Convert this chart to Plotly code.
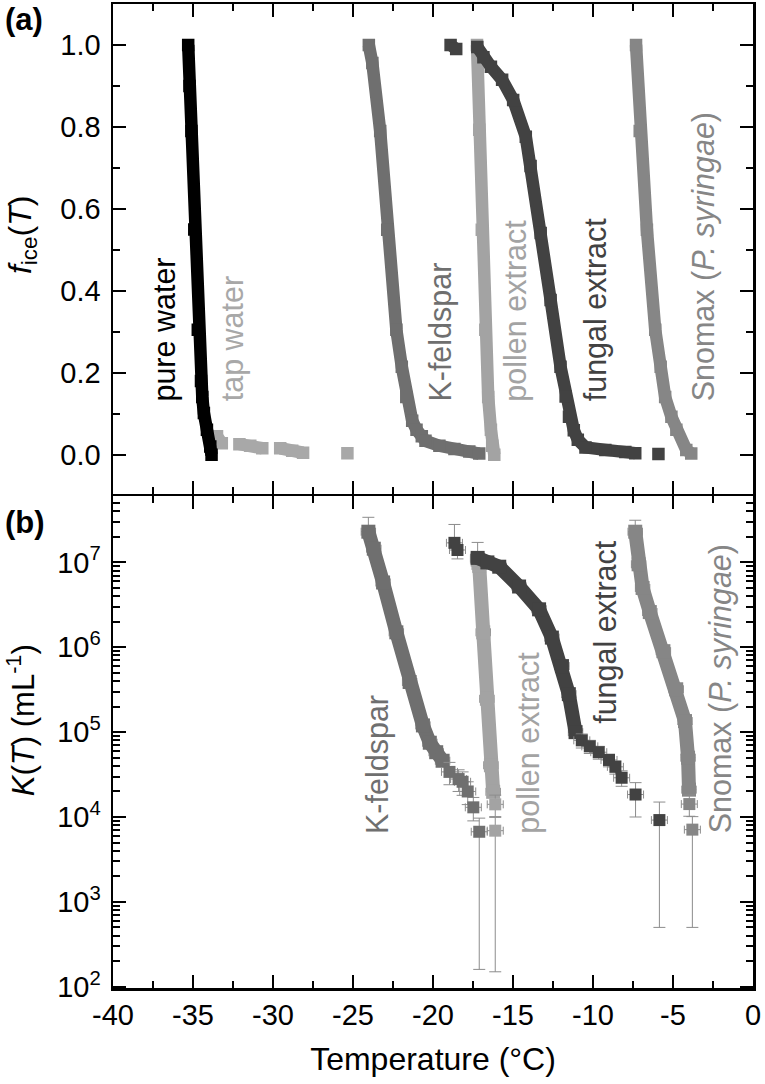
import plotly.graph_objects as go
from plotly.subplots import make_subplots

# ---------------- data: panel (a) f_ice(T) ----------------
pure_T = [-35.30, -35.22, -35.10, -34.92, -34.70, -34.50, -34.42, -34.32, -34.13, -33.92, -33.84]
pure_f = [1.000, 0.900, 0.790, 0.550, 0.305, 0.180, 0.141, 0.102, 0.061, 0.020, 0.000]

tap_T = [-33.50, -33.20, None, -32.10, -31.42, -30.67, None, -29.55, -28.80, -28.12, None, -25.35]
tap_f = [0.045, 0.028, None, 0.026, 0.022, 0.016, None, 0.016, 0.010, 0.005, None, 0.004]

kf_T = [-24.01, -23.79, -23.30, -22.86, -22.29, -21.95, -21.67, -21.30, -21.03, -20.70, -20.47, -19.60, -18.66, -17.73, -17.11]
kf_f = [1.000, 0.956, 0.790, 0.549, 0.305, 0.215, 0.141, 0.083, 0.061, 0.045, 0.034, 0.022, 0.014, 0.008, 0.003]

pollen_T = [-17.25, -17.11, -16.95, -16.73, -16.55, -16.38, -16.30, -16.17]
pollen_f = [1.000, 0.793, 0.549, 0.305, 0.141, 0.061, 0.022, 0.000]

fungal_T = [-18.90, -18.55, None, -17.23, -16.85, -16.38, -15.68, -14.99, -14.20, -13.90, -13.27, -12.65,
            -12.03, -11.71, -11.50, -11.20, -10.95, -10.47, -9.23, -7.98, -7.36, None, -5.91]
fungal_f = [1.000, 0.990, None, 0.995, 0.970, 0.947, 0.915, 0.866, 0.776, 0.705, 0.541, 0.378,
            0.215, 0.142, 0.093, 0.060, 0.037, 0.018, 0.012, 0.007, 0.004, None, 0.002]

snomax_T = [-7.31, -7.08, -6.63, -6.11, -5.77, -5.49, -5.10, -4.79, -4.17, -3.86]
snomax_f = [1.000, 0.790, 0.549, 0.305, 0.215, 0.141, 0.093, 0.061, 0.012, 0.003]

# ---------------- data: panel (b) K(T) in mL^-1 ----------------
kfK_band_T = [-24.04, -23.70, -23.12, -22.29, -21.46, -20.63, -20.20, -19.80, -19.40]
kfK_band_K = [2.3e7, 1.45e7, 5.8e6, 1.5e6, 3.9e5, 1.2e5, 7.5e4, 5.8e4, 4.6e4]
kfK_band_up = [1.1e7, 0, 0, 0, 0, 0, 0, 0, 0]
kfK_pts_T = [-18.97, -18.40, -18.15, -17.83, -17.48, -17.11]
kfK_pts_K = [3.4e4, 2.8e4, 2.6e4, 2.0e4, 1.3e4, 6.7e3]
kfK_pts_up = [1.0e4, 8.0e3, 8.0e3, 6.0e3, 4.0e3, 3.0e3]
kfK_pts_dn = [1.0e4, 8.0e3, 8.0e3, 6.0e3, 4.0e3, 6.54e3]

polK_band_T = [-17.21, -17.11, -16.86, -16.63, -16.38, -16.24]
polK_band_K = [1.08e7, 9.1e6, 1.5e6, 2.47e5, 4.07e4, 1.98e4]
polK_band_up = [6.4e6, 0, 0, 0, 0, 0]
polK_pts_T = [-16.11, -16.11]
polK_pts_K = [1.41e4, 6.9e3]
polK_pts_up = [4.0e3, 3.0e3]
polK_pts_dn = [4.0e3, 6.75e3]

funK_iso_T = [-18.66, -18.47]
funK_iso_K = [1.7e7, 1.4e7]
funK_iso_up = [1.1e7, 0]
funK_iso_dn = [0, 3.0e6]
funK_band_T = [-17.21, -16.60, -15.86, -14.62, -13.37, -12.57, -11.94, -11.51, -11.09]
funK_band_K = [1.13e7, 1.0e7, 8.9e6, 5.2e6, 2.8e6, 1.3e6, 6.0e5, 2.8e5, 1.0e5]
funK_pts_T = [-10.70, -10.20, -9.64, -9.00, -8.60, -8.21, -7.34, -5.85]
funK_pts_K = [8.0e4, 6.8e4, 5.8e4, 4.7e4, 3.9e4, 2.9e4, 1.84e4, 9.2e3]
funK_pts_up = [1.5e4, 1.2e4, 1.0e4, 8.0e3, 7.0e3, 6.0e3, 7.0e3, 5.8e3]
funK_pts_dn = [1.5e4, 1.2e4, 1.0e4, 8.0e3, 7.0e3, 6.0e3, 8.4e3, 8.7e3]

snoK_band_T = [-7.36, -7.15, -6.90, -6.45, -5.60, -4.80, -4.25, -4.06, -4.00]
snoK_band_K = [2.3e7, 9.5e6, 5.0e6, 2.6e6, 9.0e5, 3.2e5, 1.35e5, 5.0e4, 2.1e4]
snoK_band_up = [8.4e6, 0, 0, 0, 0, 0, 0, 0, 0]
snoK_pts_T = [-3.98, -3.79]
snoK_pts_K = [1.42e4, 7.1e3]
snoK_pts_up = [4.0e3, 3.0e3]
snoK_pts_dn = [4.0e3, 6.6e3]

T_ERR_BAND = 0.45
T_ERR_PTS = 0.5

# tick labels
x_tickvals = [-40, -35, -30, -25, -20, -15, -10, -5, 0]
x_ticktext = ["-40", "-35", "-30", "-25", "-20", "-15", "-10", "-5", "0"]
k_tickvals = [1e2, 1e3, 1e4, 1e5, 1e6, 1e7]
k_ticktext = ["10<sup>2</sup>", "10<sup>3</sup>", "10<sup>4</sup>", "10<sup>5</sup>",
              "10<sup>6</sup>", "10<sup>7</sup>"]

# ---------------- styles ----------------
C_PURE = "#000000"
C_TAP = "#a8a8a8"
C_KF = "#6f6f6f"
C_POLLEN = "#a3a3a3"
C_FUNGAL = "#424242"
C_SNOMAX = "#868686"
C_ERR = "#8c8c8c"
MS_A = 12.5
MS_B = 14
FONT = "Liberation Sans, Arial, sans-serif"
TICK_SIZE = 29
TITLE_SIZE = 32
LABEL_SIZE = 30.5

fig = make_subplots(rows=2, cols=1, shared_xaxes=True, vertical_spacing=0)


def band(x, y, color, row, size, err_up=None, err_x=None):
    kw = {}
    if err_up is not None:
        kw["error_y"] = dict(type="data", symmetric=False, array=err_up,
                             arrayminus=[0] * len(err_up), color=C_ERR, thickness=1, width=6)
    if err_x is not None:
        kw["error_x"] = dict(type="constant", value=err_x, color=C_ERR, thickness=1, width=4)
    fig.add_trace(go.Scatter(x=x, y=y, mode="lines+markers",
                             line=dict(color=color, width=size),
                             marker=dict(symbol="square", size=size, color=color),
                             connectgaps=False, showlegend=False, hoverinfo="skip", **kw),
                  row=row, col=1)


def points(x, y, up, dn, color, row, size):
    fig.add_trace(go.Scatter(x=x, y=y, mode="markers",
                             marker=dict(symbol="square", size=size, color=color),
                             error_y=dict(type="data", symmetric=False, array=up, arrayminus=dn,
                                          color=C_ERR, thickness=1, width=6),
                             error_x=dict(type="constant", value=T_ERR_PTS, color=C_ERR,
                                          thickness=1, width=4),
                             showlegend=False, hoverinfo="skip"), row=row, col=1)


# panel (a)
band(tap_T, tap_f, C_TAP, 1, MS_A)
band(pure_T, pure_f, C_PURE, 1, MS_A)
band(kf_T, kf_f, C_KF, 1, MS_A)
band(pollen_T, pollen_f, C_POLLEN, 1, MS_A)
band(fungal_T, fungal_f, C_FUNGAL, 1, MS_A)
band(snomax_T, snomax_f, C_SNOMAX, 1, MS_A)

# panel (b)
band(kfK_band_T, kfK_band_K, C_KF, 2, MS_B, kfK_band_up, T_ERR_BAND)
points(kfK_pts_T, kfK_pts_K, kfK_pts_up, kfK_pts_dn, C_KF, 2, 12)
band(polK_band_T, polK_band_K, C_POLLEN, 2, MS_B, polK_band_up, T_ERR_BAND)
points(polK_pts_T, polK_pts_K, polK_pts_up, polK_pts_dn, C_POLLEN, 2, 12)
points(funK_iso_T, funK_iso_K, funK_iso_up, funK_iso_dn, C_FUNGAL, 2, 12)
band(funK_band_T, funK_band_K, C_FUNGAL, 2, MS_B, None, T_ERR_BAND)
points(funK_pts_T, funK_pts_K, funK_pts_up, funK_pts_dn, C_FUNGAL, 2, 12)
band(snoK_band_T, snoK_band_K, C_SNOMAX, 2, MS_B, snoK_band_up, T_ERR_BAND)
points(snoK_pts_T, snoK_pts_K, snoK_pts_up, snoK_pts_dn, C_SNOMAX, 2, 12)

# ---------------- labels ----------------
labels_a = [("pure water", -36.75, C_PURE), ("tap water", -32.55, C_TAP),
            ("K-feldspar", -19.53, C_KF), ("pollen extract", -14.87, C_POLLEN),
            ("fungal extract", -9.83, C_FUNGAL),
            ("Snomax (<i>P. syringae</i>)", -3.11, C_SNOMAX)]
for txt, xv, col in labels_a:
    fig.add_annotation(x=xv, y=0.125, xref="x", yref="y", text=txt, textangle=-90,
                       showarrow=False, xanchor="center", yanchor="bottom",
                       font=dict(family=FONT, size=LABEL_SIZE, color=col))

labels_b = [("K-feldspar", -23.51, 3.78, C_KF), ("pollen extract", -14.0, 3.78, C_POLLEN),
            ("fungal extract", -9.21, 5.07, C_FUNGAL),
            ("Snomax (<i>P. syringae</i>)", -2.05, 3.78, C_SNOMAX)]
for txt, xv, yv, col in labels_b:
    fig.add_annotation(x=xv, y=yv, xref="x2", yref="y2", text=txt, textangle=-90,
                       showarrow=False, xanchor="center", yanchor="bottom",
                       font=dict(family=FONT, size=LABEL_SIZE, color=col))

fig.add_annotation(x=-0.172, y=1.004, xref="paper", yref="paper", text="<b>(a)</b>",
                   showarrow=False, xanchor="left", yanchor="top",
                   font=dict(family=FONT, size=31, color="black"))
fig.add_annotation(x=-0.172, y=0.493, xref="paper", yref="paper", text="<b>(b)</b>",
                   showarrow=False, xanchor="left", yanchor="top",
                   font=dict(family=FONT, size=31, color="black"))

# y-axis titles
fig.add_annotation(x=-0.1425, y=0.765, xref="paper", yref="paper",
                   text="<i>f</i><sub>ice</sub>(<i>T</i>)", textangle=-90, showarrow=False,
                   xanchor="center", yanchor="middle",
                   font=dict(family=FONT, size=32, color="black"))
fig.add_annotation(x=-0.1425, y=0.272, xref="paper", yref="paper",
                   text="<i>K</i>(<i>T</i>) (mL<sup>-1</sup>)", textangle=-90, showarrow=False,
                   xanchor="center", yanchor="middle",
                   font=dict(family=FONT, size=31, color="black"))

# ---------------- axes ----------------
common_x = dict(range=[-40, 0], tickmode="array", tickvals=x_tickvals, ticktext=x_ticktext,
                ticks="inside", ticklen=13, tickwidth=2,
                tickcolor="black", showline=True, linewidth=2.5, linecolor="black",
                mirror="ticks", showgrid=False, zeroline=False,
                minor=dict(dtick=2.5, tick0=-40, ticks="inside", ticklen=7, tickwidth=2,
                           tickcolor="black", showgrid=False),
                tickfont=dict(family=FONT, size=TICK_SIZE, color="black"))
fig.update_xaxes(**common_x, showticklabels=False, row=1, col=1)
fig.update_xaxes(**common_x, showticklabels=True, row=2, col=1,
                 title=dict(text="Temperature (°C)",
                            font=dict(family=FONT, size=TITLE_SIZE, color="black"),
                            standoff=18))

fig.update_yaxes(range=[-0.095, 1.1], tick0=0, dtick=0.2, tickformat=".1f", ticks="inside",
                 ticklen=13, tickwidth=2, tickcolor="black", showline=True, linewidth=2.5,
                 linecolor="black", mirror="ticks", showgrid=False, zeroline=False,
                 minor=dict(dtick=0.1, tick0=0, ticks="inside", ticklen=7, tickwidth=2,
                            tickcolor="black", showgrid=False),
                 tickfont=dict(family=FONT, size=TICK_SIZE, color="black"), ticklabelstandoff=4,
                 domain=[0.5023, 1.0], row=1, col=1)

minor_log = [m * 10 ** e for e in range(1, 8) for m in range(2, 10)]
fig.update_yaxes(type="log", range=[1.985, 7.779], tickmode="array", tickvals=k_tickvals,
                 ticktext=k_ticktext, ticks="inside",
                 ticklen=13, tickwidth=2, tickcolor="black", showline=True, linewidth=2.5,
                 linecolor="black", mirror="ticks", showgrid=False, zeroline=False,
                 minor=dict(tickmode="array", tickvals=minor_log, ticks="inside", ticklen=7,
                            tickwidth=2, tickcolor="black", showgrid=False),
                 tickfont=dict(family=FONT, size=TICK_SIZE, color="black"), ticklabelstandoff=4,
                 domain=[0.0, 0.4997], row=2, col=1)

fig.update_layout(template="none", width=765, height=1084,
                  margin=dict(l=113, r=12, t=4, b=96, autoexpand=False),
                  paper_bgcolor="white", plot_bgcolor="white", hovermode=False,
                  font=dict(family=FONT, size=TICK_SIZE, color="black"), showlegend=False)

fig.write_html("out.html", config={"displayModeBar": False, "staticPlot": True},
               post_script="document.body.style.margin='0px';document.documentElement.style.margin='0px';")
